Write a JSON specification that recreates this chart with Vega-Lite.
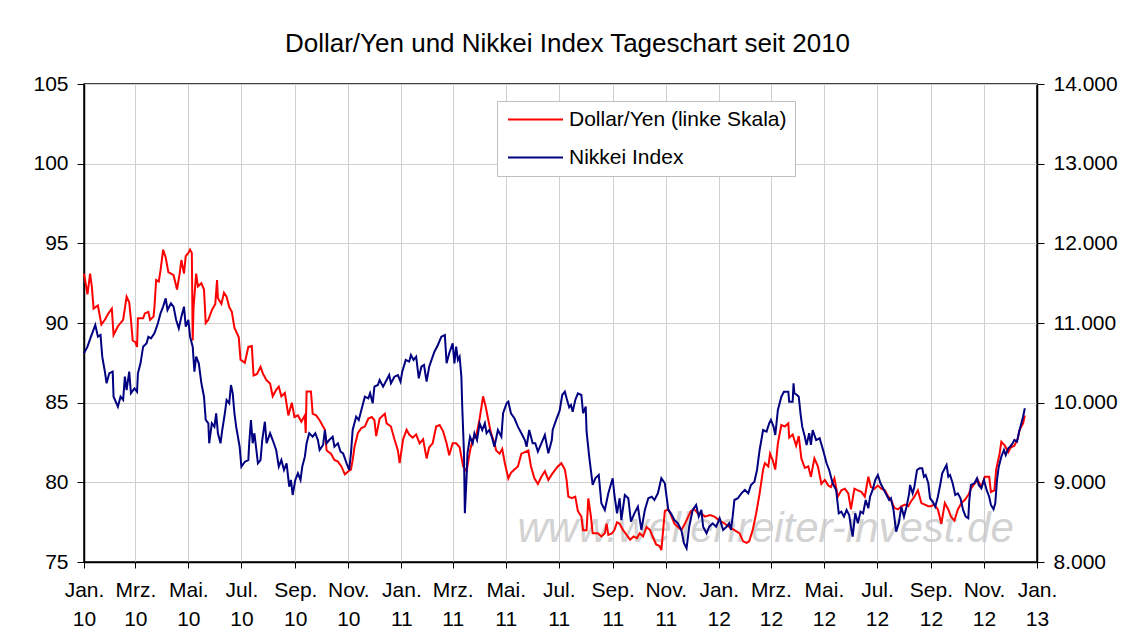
{
  "$schema": "https://vega.github.io/schema/vega-lite/v6.json",
  "width": 953,
  "height": 478,
  "autosize": {"type": "none"},
  "padding": {"left": 84, "top": 84, "right": 84, "bottom": 79},
  "background": "white",
  "config": {
    "font": "Liberation Sans",
    "view": {"stroke": "black", "strokeWidth": 1.5},
    "axis": {"labelFont": "Liberation Sans", "labelFontSize": 21, "labelColor": "black", "domainColor": "black", "domainWidth": 1.5, "tickColor": "black", "tickWidth": 1, "gridColor": "#cfcfcf", "gridWidth": 1}
  },
  "title": {"text": "Dollar/Yen und Nikkei Index Tageschart seit 2010", "fontSize": 26, "fontWeight": "normal", "font": "Liberation Sans", "color": "black", "frame": "group", "anchor": "middle", "dx": 7, "dy": 25, "baseline": "alphabetic", "offset": 20},
  "datasets": {
    "wm": [{"d": "2012-02-24", "v": 77.1, "t": "www.wellenreiter-invest.de"}],
    "usd": [
      {"d":"2010-01-01","v":93.1},{"d":"2010-01-05","v":91.8},{"d":"2010-01-08","v":93.1},{"d":"2010-01-10","v":92.3},{"d":"2010-01-12","v":90.9},{"d":"2010-01-17","v":91.1},{"d":"2010-01-21","v":89.9},{"d":"2010-01-25","v":90.2},{"d":"2010-01-29","v":90.6},{"d":"2010-02-02","v":90.9},{"d":"2010-02-04","v":89.25},{"d":"2010-02-09","v":89.8},{"d":"2010-02-15","v":90.2},{"d":"2010-02-19","v":91.65},{"d":"2010-02-22","v":91.3},{"d":"2010-02-24","v":90.2},{"d":"2010-02-26","v":88.9},{"d":"2010-03-01","v":88.8},{"d":"2010-03-03","v":88.5},{"d":"2010-03-04","v":90.3},{"d":"2010-03-10","v":90.3},{"d":"2010-03-12","v":90.6},{"d":"2010-03-16","v":90.7},{"d":"2010-03-18","v":90.2},{"d":"2010-03-22","v":90.4},{"d":"2010-03-23","v":91.0},{"d":"2010-03-25","v":92.7},{"d":"2010-03-28","v":92.6},{"d":"2010-03-30","v":93.3},{"d":"2010-04-02","v":94.6},{"d":"2010-04-05","v":94.1},{"d":"2010-04-08","v":93.2},{"d":"2010-04-14","v":93.0},{"d":"2010-04-18","v":92.1},{"d":"2010-04-21","v":93.1},{"d":"2010-04-23","v":93.95},{"d":"2010-04-26","v":93.1},{"d":"2010-04-28","v":94.2},{"d":"2010-05-01","v":94.4},{"d":"2010-05-03","v":94.6},{"d":"2010-05-05","v":94.4},{"d":"2010-05-06","v":88.9},{"d":"2010-05-07","v":91.0},{"d":"2010-05-10","v":93.1},{"d":"2010-05-12","v":92.3},{"d":"2010-05-16","v":92.5},{"d":"2010-05-19","v":92.1},{"d":"2010-05-21","v":90.0},{"d":"2010-05-24","v":90.2},{"d":"2010-05-28","v":90.8},{"d":"2010-06-01","v":91.2},{"d":"2010-06-03","v":92.7},{"d":"2010-06-04","v":91.55},{"d":"2010-06-08","v":91.2},{"d":"2010-06-11","v":91.9},{"d":"2010-06-14","v":91.65},{"d":"2010-06-17","v":91.0},{"d":"2010-06-20","v":90.7},{"d":"2010-06-23","v":89.7},{"d":"2010-06-28","v":89.1},{"d":"2010-06-30","v":87.7},{"d":"2010-07-05","v":87.5},{"d":"2010-07-09","v":88.5},{"d":"2010-07-13","v":88.55},{"d":"2010-07-15","v":86.7},{"d":"2010-07-19","v":86.8},{"d":"2010-07-23","v":87.25},{"d":"2010-07-26","v":86.8},{"d":"2010-07-30","v":86.4},{"d":"2010-08-03","v":86.2},{"d":"2010-08-06","v":85.4},{"d":"2010-08-10","v":85.8},{"d":"2010-08-13","v":86.0},{"d":"2010-08-16","v":85.4},{"d":"2010-08-20","v":85.6},{"d":"2010-08-24","v":84.2},{"d":"2010-08-28","v":85.0},{"d":"2010-08-31","v":84.1},{"d":"2010-09-04","v":84.2},{"d":"2010-09-08","v":83.8},{"d":"2010-09-12","v":84.2},{"d":"2010-09-13","v":83.1},{"d":"2010-09-14","v":85.7},{"d":"2010-09-19","v":85.7},{"d":"2010-09-21","v":84.3},{"d":"2010-09-25","v":84.2},{"d":"2010-09-29","v":83.9},{"d":"2010-10-05","v":83.3},{"d":"2010-10-07","v":82.0},{"d":"2010-10-12","v":81.8},{"d":"2010-10-16","v":81.4},{"d":"2010-10-20","v":81.3},{"d":"2010-10-24","v":81.0},{"d":"2010-10-28","v":80.5},{"d":"2010-11-01","v":80.7},{"d":"2010-11-04","v":80.8},{"d":"2010-11-06","v":81.4},{"d":"2010-11-08","v":82.2},{"d":"2010-11-12","v":83.1},{"d":"2010-11-16","v":83.4},{"d":"2010-11-20","v":83.5},{"d":"2010-11-24","v":84.0},{"d":"2010-11-28","v":84.1},{"d":"2010-12-01","v":83.9},{"d":"2010-12-03","v":82.9},{"d":"2010-12-07","v":84.0},{"d":"2010-12-13","v":84.3},{"d":"2010-12-15","v":83.7},{"d":"2010-12-20","v":83.5},{"d":"2010-12-24","v":82.7},{"d":"2010-12-28","v":82.0},{"d":"2010-12-30","v":81.2},
      {"d":"2011-01-03","v":82.7},{"d":"2011-01-07","v":83.3},{"d":"2011-01-10","v":83.0},{"d":"2011-01-14","v":82.8},{"d":"2011-01-18","v":83.0},{"d":"2011-01-22","v":82.45},{"d":"2011-01-26","v":82.7},{"d":"2011-01-30","v":81.5},{"d":"2011-02-02","v":82.2},{"d":"2011-02-06","v":82.45},{"d":"2011-02-10","v":83.5},{"d":"2011-02-14","v":83.6},{"d":"2011-02-18","v":83.2},{"d":"2011-02-22","v":82.45},{"d":"2011-02-25","v":81.7},{"d":"2011-03-01","v":82.45},{"d":"2011-03-05","v":82.45},{"d":"2011-03-09","v":82.2},{"d":"2011-03-13","v":81.0},{"d":"2011-03-17","v":80.7},{"d":"2011-03-21","v":82.0},{"d":"2011-03-24","v":82.7},{"d":"2011-03-28","v":82.9},{"d":"2011-04-01","v":84.0},{"d":"2011-04-05","v":85.4},{"d":"2011-04-08","v":84.75},{"d":"2011-04-11","v":83.9},{"d":"2011-04-14","v":83.1},{"d":"2011-04-18","v":82.45},{"d":"2011-04-20","v":82.0},{"d":"2011-04-24","v":81.8},{"d":"2011-04-27","v":82.1},{"d":"2011-04-30","v":81.2},{"d":"2011-05-04","v":80.25},{"d":"2011-05-07","v":80.6},{"d":"2011-05-11","v":80.8},{"d":"2011-05-15","v":81.0},{"d":"2011-05-19","v":81.8},{"d":"2011-05-23","v":81.9},{"d":"2011-05-27","v":82.0},{"d":"2011-05-30","v":81.0},{"d":"2011-06-03","v":80.25},{"d":"2011-06-07","v":79.9},{"d":"2011-06-11","v":80.35},{"d":"2011-06-15","v":80.7},{"d":"2011-06-19","v":80.15},{"d":"2011-06-23","v":80.5},{"d":"2011-06-27","v":80.8},{"d":"2011-06-30","v":81.0},{"d":"2011-07-04","v":81.2},{"d":"2011-07-08","v":80.8},{"d":"2011-07-10","v":80.15},{"d":"2011-07-12","v":79.1},{"d":"2011-07-16","v":79.0},{"d":"2011-07-20","v":79.1},{"d":"2011-07-23","v":78.2},{"d":"2011-07-27","v":77.85},{"d":"2011-07-29","v":77.0},{"d":"2011-08-02","v":77.0},{"d":"2011-08-04","v":79.0},{"d":"2011-08-07","v":77.85},{"d":"2011-08-09","v":76.8},{"d":"2011-08-15","v":76.8},{"d":"2011-08-19","v":76.6},{"d":"2011-08-23","v":76.8},{"d":"2011-08-25","v":77.4},{"d":"2011-08-27","v":76.7},{"d":"2011-08-31","v":76.8},{"d":"2011-09-03","v":77.0},{"d":"2011-09-06","v":77.5},{"d":"2011-09-09","v":77.4},{"d":"2011-09-13","v":77.0},{"d":"2011-09-17","v":76.7},{"d":"2011-09-21","v":76.4},{"d":"2011-09-25","v":76.6},{"d":"2011-09-29","v":76.5},{"d":"2011-10-02","v":76.8},{"d":"2011-10-06","v":76.6},{"d":"2011-10-10","v":77.2},{"d":"2011-10-14","v":77.0},{"d":"2011-10-17","v":76.6},{"d":"2011-10-21","v":76.1},{"d":"2011-10-25","v":76.0},{"d":"2011-10-27","v":75.75},{"d":"2011-10-31","v":78.2},{"d":"2011-11-04","v":78.3},{"d":"2011-11-07","v":77.95},{"d":"2011-11-11","v":77.4},{"d":"2011-11-15","v":77.2},{"d":"2011-11-19","v":77.0},{"d":"2011-11-23","v":77.4},{"d":"2011-11-27","v":77.85},{"d":"2011-11-30","v":78.2},{"d":"2011-12-04","v":78.3},{"d":"2011-12-08","v":78.05},{"d":"2011-12-12","v":78.05},{"d":"2011-12-16","v":77.85},{"d":"2011-12-22","v":77.95},{"d":"2011-12-27","v":77.85},
      {"d":"2012-01-02","v":77.6},{"d":"2012-01-08","v":77.4},{"d":"2012-01-13","v":77.2},{"d":"2012-01-19","v":77.0},{"d":"2012-01-25","v":76.8},{"d":"2012-01-29","v":76.3},{"d":"2012-02-02","v":76.2},{"d":"2012-02-05","v":76.3},{"d":"2012-02-09","v":77.0},{"d":"2012-02-13","v":78.05},{"d":"2012-02-17","v":79.3},{"d":"2012-02-21","v":80.8},{"d":"2012-02-23","v":81.2},{"d":"2012-02-27","v":81.0},{"d":"2012-02-29","v":81.8},{"d":"2012-03-03","v":81.4},{"d":"2012-03-06","v":80.8},{"d":"2012-03-09","v":82.45},{"d":"2012-03-13","v":83.6},{"d":"2012-03-17","v":83.5},{"d":"2012-03-21","v":83.7},{"d":"2012-03-22","v":82.8},{"d":"2012-03-26","v":83.0},{"d":"2012-03-30","v":82.3},{"d":"2012-04-02","v":82.9},{"d":"2012-04-05","v":81.5},{"d":"2012-04-09","v":80.9},{"d":"2012-04-13","v":81.0},{"d":"2012-04-16","v":80.35},{"d":"2012-04-20","v":81.5},{"d":"2012-04-24","v":81.0},{"d":"2012-04-28","v":79.9},{"d":"2012-05-02","v":80.15},{"d":"2012-05-06","v":79.8},{"d":"2012-05-09","v":79.7},{"d":"2012-05-13","v":80.25},{"d":"2012-05-17","v":79.1},{"d":"2012-05-21","v":79.5},{"d":"2012-05-25","v":79.6},{"d":"2012-05-29","v":79.3},{"d":"2012-06-01","v":78.3},{"d":"2012-06-05","v":79.6},{"d":"2012-06-09","v":79.5},{"d":"2012-06-13","v":79.4},{"d":"2012-06-17","v":79.1},{"d":"2012-06-21","v":80.35},{"d":"2012-06-24","v":79.7},{"d":"2012-06-28","v":79.6},{"d":"2012-07-02","v":79.8},{"d":"2012-07-06","v":79.6},{"d":"2012-07-10","v":79.5},{"d":"2012-07-14","v":79.1},{"d":"2012-07-17","v":78.9},{"d":"2012-07-21","v":78.4},{"d":"2012-07-25","v":78.3},{"d":"2012-07-29","v":78.5},{"d":"2012-08-02","v":78.6},{"d":"2012-08-06","v":78.5},{"d":"2012-08-09","v":78.8},{"d":"2012-08-13","v":79.1},{"d":"2012-08-17","v":79.5},{"d":"2012-08-21","v":78.7},{"d":"2012-08-25","v":78.6},{"d":"2012-08-29","v":78.5},{"d":"2012-09-01","v":78.5},{"d":"2012-09-05","v":78.6},{"d":"2012-09-09","v":78.3},{"d":"2012-09-13","v":77.4},{"d":"2012-09-17","v":78.7},{"d":"2012-09-21","v":78.3},{"d":"2012-09-24","v":77.85},{"d":"2012-09-28","v":77.6},{"d":"2012-10-02","v":78.3},{"d":"2012-10-06","v":78.7},{"d":"2012-10-10","v":78.9},{"d":"2012-10-14","v":79.2},{"d":"2012-10-17","v":79.6},{"d":"2012-10-21","v":79.9},{"d":"2012-10-25","v":80.15},{"d":"2012-10-29","v":79.7},{"d":"2012-11-02","v":80.35},{"d":"2012-11-07","v":80.35},{"d":"2012-11-09","v":79.4},{"d":"2012-11-13","v":79.5},{"d":"2012-11-15","v":80.8},{"d":"2012-11-19","v":81.8},{"d":"2012-11-21","v":82.55},{"d":"2012-11-25","v":82.3},{"d":"2012-11-29","v":81.9},{"d":"2012-12-02","v":82.2},{"d":"2012-12-06","v":82.3},{"d":"2012-12-10","v":82.75},{"d":"2012-12-12","v":83.3},{"d":"2012-12-16","v":83.7},{"d":"2012-12-18","v":84.2}
    ],
    "nk": [
      {"d":"2010-01-01","v":10620},{"d":"2010-01-05","v":10703},{"d":"2010-01-09","v":10828},{"d":"2010-01-14","v":10975},{"d":"2010-01-17","v":10828},{"d":"2010-01-20","v":10849},{"d":"2010-01-22","v":10577},{"d":"2010-01-25","v":10389},{"d":"2010-01-27","v":10243},{"d":"2010-01-30","v":10368},{"d":"2010-02-03","v":10389},{"d":"2010-02-04","v":10075},{"d":"2010-02-09","v":9950},{"d":"2010-02-12","v":10075},{"d":"2010-02-15","v":10034},{"d":"2010-02-17","v":10326},{"d":"2010-02-19","v":10159},{"d":"2010-02-22","v":10389},{"d":"2010-02-24","v":10118},{"d":"2010-02-28","v":10180},{"d":"2010-03-03","v":10138},{"d":"2010-03-04","v":10368},{"d":"2010-03-07","v":10494},{"d":"2010-03-10","v":10703},{"d":"2010-03-14","v":10745},{"d":"2010-03-16","v":10828},{"d":"2010-03-19","v":10808},{"d":"2010-03-23","v":10871},{"d":"2010-03-27","v":10996},{"d":"2010-03-30","v":11122},{"d":"2010-04-02","v":11205},{"d":"2010-04-05","v":11310},{"d":"2010-04-07","v":11163},{"d":"2010-04-11","v":11247},{"d":"2010-04-14","v":11205},{"d":"2010-04-17","v":11038},{"d":"2010-04-20","v":10933},{"d":"2010-04-23","v":11080},{"d":"2010-04-26","v":11205},{"d":"2010-04-28","v":10954},{"d":"2010-05-01","v":11038},{"d":"2010-05-03","v":10828},{"d":"2010-05-06","v":10703},{"d":"2010-05-08","v":10389},{"d":"2010-05-10","v":10577},{"d":"2010-05-13","v":10494},{"d":"2010-05-16","v":10243},{"d":"2010-05-19","v":10075},{"d":"2010-05-21","v":9783},{"d":"2010-05-24","v":9741},{"d":"2010-05-25","v":9490},{"d":"2010-05-28","v":9741},{"d":"2010-05-31","v":9699},{"d":"2010-06-02","v":9867},{"d":"2010-06-04","v":9616},{"d":"2010-06-07","v":9490},{"d":"2010-06-09","v":9657},{"d":"2010-06-12","v":9867},{"d":"2010-06-14","v":10034},{"d":"2010-06-17","v":9992},{"d":"2010-06-19","v":10222},{"d":"2010-06-21","v":10118},{"d":"2010-06-23","v":9867},{"d":"2010-06-25","v":9699},{"d":"2010-06-29","v":9447},{"d":"2010-07-01","v":9197},{"d":"2010-07-05","v":9259},{"d":"2010-07-09","v":9280},{"d":"2010-07-10","v":9490},{"d":"2010-07-12","v":9783},{"d":"2010-07-14","v":9490},{"d":"2010-07-16","v":9616},{"d":"2010-07-20","v":9239},{"d":"2010-07-23","v":9280},{"d":"2010-07-25","v":9531},{"d":"2010-07-28","v":9761},{"d":"2010-07-30","v":9490},{"d":"2010-08-03","v":9616},{"d":"2010-08-06","v":9531},{"d":"2010-08-10","v":9406},{"d":"2010-08-13","v":9197},{"d":"2010-08-16","v":9280},{"d":"2010-08-19","v":9155},{"d":"2010-08-22","v":9239},{"d":"2010-08-25","v":8946},{"d":"2010-08-27","v":9030},{"d":"2010-08-29","v":8841},{"d":"2010-09-01","v":9030},{"d":"2010-09-04","v":9113},{"d":"2010-09-07","v":9030},{"d":"2010-09-09","v":9197},{"d":"2010-09-12","v":9322},{"d":"2010-09-14","v":9490},{"d":"2010-09-17","v":9616},{"d":"2010-09-21","v":9573},{"d":"2010-09-24","v":9616},{"d":"2010-09-27","v":9531},{"d":"2010-09-29","v":9406},{"d":"2010-10-03","v":9470},{"d":"2010-10-05","v":9657},{"d":"2010-10-07","v":9490},{"d":"2010-10-10","v":9531},{"d":"2010-10-14","v":9573},{"d":"2010-10-16","v":9447},{"d":"2010-10-20","v":9490},{"d":"2010-10-23","v":9385},{"d":"2010-10-26","v":9364},{"d":"2010-10-30","v":9239},{"d":"2010-11-02","v":9155},{"d":"2010-11-04","v":9364},{"d":"2010-11-06","v":9657},{"d":"2010-11-08","v":9741},{"d":"2010-11-10","v":9824},{"d":"2010-11-13","v":9783},{"d":"2010-11-16","v":9908},{"d":"2010-11-20","v":10075},{"d":"2010-11-24","v":10055},{"d":"2010-11-26","v":10118},{"d":"2010-11-29","v":9992},{"d":"2010-12-01","v":10201},{"d":"2010-12-05","v":10222},{"d":"2010-12-07","v":10285},{"d":"2010-12-11","v":10201},{"d":"2010-12-15","v":10285},{"d":"2010-12-18","v":10347},{"d":"2010-12-20","v":10243},{"d":"2010-12-24","v":10326},{"d":"2010-12-28","v":10347},{"d":"2010-12-31","v":10264},
      {"d":"2011-01-02","v":10389},{"d":"2011-01-06","v":10536},{"d":"2011-01-10","v":10515},{"d":"2011-01-12","v":10598},{"d":"2011-01-15","v":10536},{"d":"2011-01-18","v":10577},{"d":"2011-01-21","v":10306},{"d":"2011-01-24","v":10452},{"d":"2011-01-27","v":10473},{"d":"2011-01-30","v":10264},{"d":"2011-02-02","v":10452},{"d":"2011-02-04","v":10515},{"d":"2011-02-08","v":10640},{"d":"2011-02-12","v":10724},{"d":"2011-02-16","v":10828},{"d":"2011-02-20","v":10849},{"d":"2011-02-22","v":10494},{"d":"2011-02-25","v":10620},{"d":"2011-03-01","v":10745},{"d":"2011-03-03","v":10494},{"d":"2011-03-05","v":10703},{"d":"2011-03-07","v":10536},{"d":"2011-03-09","v":10577},{"d":"2011-03-11","v":10326},{"d":"2011-03-12","v":9950},{"d":"2011-03-14","v":9364},{"d":"2011-03-15","v":8611},{"d":"2011-03-17","v":9071},{"d":"2011-03-18","v":9364},{"d":"2011-03-21","v":9573},{"d":"2011-03-24","v":9490},{"d":"2011-03-26","v":9616},{"d":"2011-03-29","v":9531},{"d":"2011-04-01","v":9741},{"d":"2011-04-04","v":9657},{"d":"2011-04-07","v":9741},{"d":"2011-04-09","v":9616},{"d":"2011-04-12","v":9657},{"d":"2011-04-15","v":9573},{"d":"2011-04-18","v":9447},{"d":"2011-04-22","v":9657},{"d":"2011-04-26","v":9573},{"d":"2011-04-28","v":9867},{"d":"2011-05-02","v":9992},{"d":"2011-05-04","v":10013},{"d":"2011-05-07","v":9867},{"d":"2011-05-11","v":9804},{"d":"2011-05-15","v":9699},{"d":"2011-05-19","v":9616},{"d":"2011-05-23","v":9531},{"d":"2011-05-25","v":9447},{"d":"2011-05-28","v":9657},{"d":"2011-06-01","v":9490},{"d":"2011-06-04","v":9490},{"d":"2011-06-07","v":9385},{"d":"2011-06-11","v":9490},{"d":"2011-06-15","v":9594},{"d":"2011-06-19","v":9364},{"d":"2011-06-23","v":9531},{"d":"2011-06-24","v":9657},{"d":"2011-06-28","v":9783},{"d":"2011-07-02","v":9900},{"d":"2011-07-05","v":10096},{"d":"2011-07-08","v":10138},{"d":"2011-07-10","v":10055},{"d":"2011-07-13","v":9942},{"d":"2011-07-15","v":9971},{"d":"2011-07-17","v":9887},{"d":"2011-07-20","v":10034},{"d":"2011-07-23","v":10118},{"d":"2011-07-27","v":10096},{"d":"2011-07-29","v":9867},{"d":"2011-08-01","v":9950},{"d":"2011-08-02","v":9636},{"d":"2011-08-05","v":9322},{"d":"2011-08-09","v":8967},{"d":"2011-08-12","v":9051},{"d":"2011-08-16","v":9092},{"d":"2011-08-19","v":8737},{"d":"2011-08-23","v":8653},{"d":"2011-08-27","v":8862},{"d":"2011-09-01","v":9051},{"d":"2011-09-03","v":8841},{"d":"2011-09-06","v":8611},{"d":"2011-09-09","v":8800},{"d":"2011-09-11","v":8527},{"d":"2011-09-15","v":8841},{"d":"2011-09-19","v":8800},{"d":"2011-09-22","v":8506},{"d":"2011-09-26","v":8611},{"d":"2011-09-30","v":8695},{"d":"2011-10-04","v":8402},{"d":"2011-10-08","v":8653},{"d":"2011-10-12","v":8800},{"d":"2011-10-16","v":8820},{"d":"2011-10-19","v":8778},{"d":"2011-10-23","v":8862},{"d":"2011-10-27","v":9051},{"d":"2011-10-31","v":8988},{"d":"2011-11-02","v":8820},{"d":"2011-11-04","v":8653},{"d":"2011-11-07","v":8611},{"d":"2011-11-11","v":8527},{"d":"2011-11-15","v":8486},{"d":"2011-11-19","v":8402},{"d":"2011-11-22","v":8235},{"d":"2011-11-25","v":8172},{"d":"2011-11-28","v":8443},{"d":"2011-12-02","v":8653},{"d":"2011-12-06","v":8716},{"d":"2011-12-09","v":8569},{"d":"2011-12-12","v":8653},{"d":"2011-12-14","v":8443},{"d":"2011-12-18","v":8360},{"d":"2011-12-21","v":8443},{"d":"2011-12-25","v":8486},{"d":"2011-12-29","v":8443},
      {"d":"2012-01-02","v":8548},{"d":"2012-01-06","v":8402},{"d":"2012-01-10","v":8443},{"d":"2012-01-13","v":8486},{"d":"2012-01-15","v":8402},{"d":"2012-01-17","v":8569},{"d":"2012-01-19","v":8778},{"d":"2012-01-23","v":8800},{"d":"2012-01-27","v":8862},{"d":"2012-01-31","v":8904},{"d":"2012-02-04","v":8862},{"d":"2012-02-07","v":8967},{"d":"2012-02-11","v":9008},{"d":"2012-02-14","v":9155},{"d":"2012-02-17","v":9406},{"d":"2012-02-21","v":9657},{"d":"2012-02-25","v":9636},{"d":"2012-02-28","v":9741},{"d":"2012-03-01","v":9783},{"d":"2012-03-04","v":9699},{"d":"2012-03-06","v":9594},{"d":"2012-03-09","v":9908},{"d":"2012-03-13","v":10075},{"d":"2012-03-16","v":10138},{"d":"2012-03-21","v":10138},{"d":"2012-03-22","v":10013},{"d":"2012-03-26","v":10013},{"d":"2012-03-27","v":10243},{"d":"2012-03-28","v":10118},{"d":"2012-03-31","v":10096},{"d":"2012-04-02","v":10075},{"d":"2012-04-04","v":9867},{"d":"2012-04-06","v":9699},{"d":"2012-04-09","v":9573},{"d":"2012-04-11","v":9469},{"d":"2012-04-14","v":9616},{"d":"2012-04-16","v":9469},{"d":"2012-04-18","v":9657},{"d":"2012-04-22","v":9531},{"d":"2012-04-26","v":9553},{"d":"2012-04-30","v":9406},{"d":"2012-05-04","v":9239},{"d":"2012-05-07","v":9155},{"d":"2012-05-11","v":8988},{"d":"2012-05-15","v":8904},{"d":"2012-05-18","v":8611},{"d":"2012-05-21","v":8632},{"d":"2012-05-24","v":8569},{"d":"2012-05-27","v":8653},{"d":"2012-05-30","v":8590},{"d":"2012-06-01","v":8443},{"d":"2012-06-03","v":8318},{"d":"2012-06-06","v":8611},{"d":"2012-06-09","v":8486},{"d":"2012-06-12","v":8632},{"d":"2012-06-15","v":8611},{"d":"2012-06-18","v":8778},{"d":"2012-06-21","v":8674},{"d":"2012-06-23","v":8820},{"d":"2012-06-26","v":8904},{"d":"2012-06-29","v":9030},{"d":"2012-07-02","v":9092},{"d":"2012-07-05","v":8988},{"d":"2012-07-08","v":8925},{"d":"2012-07-12","v":8841},{"d":"2012-07-15","v":8778},{"d":"2012-07-17","v":8800},{"d":"2012-07-20","v":8653},{"d":"2012-07-23","v":8381},{"d":"2012-07-26","v":8486},{"d":"2012-07-29","v":8695},{"d":"2012-08-01","v":8569},{"d":"2012-08-04","v":8695},{"d":"2012-08-07","v":8862},{"d":"2012-08-08","v":8967},{"d":"2012-08-11","v":8862},{"d":"2012-08-13","v":8946},{"d":"2012-08-16","v":9155},{"d":"2012-08-19","v":9176},{"d":"2012-08-22","v":9176},{"d":"2012-08-24","v":9071},{"d":"2012-08-26","v":9092},{"d":"2012-08-29","v":8988},{"d":"2012-08-31","v":8800},{"d":"2012-09-03","v":8758},{"d":"2012-09-06","v":8695},{"d":"2012-09-09","v":8820},{"d":"2012-09-12","v":8988},{"d":"2012-09-14","v":9113},{"d":"2012-09-17","v":9176},{"d":"2012-09-19","v":9218},{"d":"2012-09-21","v":9071},{"d":"2012-09-23","v":9092},{"d":"2012-09-26","v":8988},{"d":"2012-09-29","v":8841},{"d":"2012-10-02","v":8862},{"d":"2012-10-05","v":8800},{"d":"2012-10-08","v":8653},{"d":"2012-10-11","v":8569},{"d":"2012-10-14","v":8548},{"d":"2012-10-15","v":8758},{"d":"2012-10-17","v":8967},{"d":"2012-10-21","v":8988},{"d":"2012-10-24","v":9051},{"d":"2012-10-26","v":8967},{"d":"2012-10-29","v":8925},{"d":"2012-11-01","v":9030},{"d":"2012-11-04","v":8904},{"d":"2012-11-07","v":8820},{"d":"2012-11-09","v":8716},{"d":"2012-11-12","v":8662},{"d":"2012-11-14","v":8737},{"d":"2012-11-16","v":9030},{"d":"2012-11-18","v":9197},{"d":"2012-11-21","v":9322},{"d":"2012-11-24","v":9406},{"d":"2012-11-26","v":9343},{"d":"2012-11-29","v":9427},{"d":"2012-12-01","v":9447},{"d":"2012-12-04","v":9490},{"d":"2012-12-06","v":9531},{"d":"2012-12-09","v":9510},{"d":"2012-12-11","v":9616},{"d":"2012-12-14","v":9741},{"d":"2012-12-16","v":9824},{"d":"2012-12-18","v":9929}
    ]
  },
  "layer": [
    {
      "layer": [
        {
          "data": {"name": "wm"},
          "mark": {"type": "text", "fontSize": 42, "fontStyle": "italic", "font": "Liberation Sans", "color": "#c8c8c8", "opacity": 0.8, "align": "center", "baseline": "middle"},
          "encoding": {
            "x": {"field": "d", "type": "temporal", "scale": {"type": "utc", "domain": [{"year": 2010, "month": 1, "date": 1, "utc": true}, {"year": 2013, "month": 1, "date": 1, "utc": true}]},
              "axis": {"title": null, "values": [
                {"year": 2010, "month": 1, "date": 1, "utc": true}, {"year": 2010, "month": 3, "date": 1, "utc": true}, {"year": 2010, "month": 5, "date": 1, "utc": true}, {"year": 2010, "month": 7, "date": 1, "utc": true}, {"year": 2010, "month": 9, "date": 1, "utc": true}, {"year": 2010, "month": 11, "date": 1, "utc": true},
                {"year": 2011, "month": 1, "date": 1, "utc": true}, {"year": 2011, "month": 3, "date": 1, "utc": true}, {"year": 2011, "month": 5, "date": 1, "utc": true}, {"year": 2011, "month": 7, "date": 1, "utc": true}, {"year": 2011, "month": 9, "date": 1, "utc": true}, {"year": 2011, "month": 11, "date": 1, "utc": true},
                {"year": 2012, "month": 1, "date": 1, "utc": true}, {"year": 2012, "month": 3, "date": 1, "utc": true}, {"year": 2012, "month": 5, "date": 1, "utc": true}, {"year": 2012, "month": 7, "date": 1, "utc": true}, {"year": 2012, "month": 9, "date": 1, "utc": true}, {"year": 2012, "month": 11, "date": 1, "utc": true},
                {"year": 2013, "month": 1, "date": 1, "utc": true}],
                "labelExpr": "[['Jan.','Feb.','Mrz.','Apr.','Mai.','Jun.','Jul.','Aug.','Sep.','Okt.','Nov.','Dez.'][utcmonth(datum.value)], utcFormat(datum.value, '%y')]",
                "labelLineHeight": 29, "labelPadding": 11, "tickSize": 6, "grid": true, "labelAlign": "center", "labelBaseline": "top", "labelFlush": false, "labelOverlap": false}},
            "y": {"field": "v", "type": "quantitative", "scale": {"domain": [75, 105], "nice": false, "zero": false},
              "axis": {"title": null, "values": [75, 80, 85, 90, 95, 100, 105], "grid": true, "tickSize": 7, "labelPadding": 9}},
            "text": {"field": "t"}
          }
        },
        {
          "data": {"name": "usd"},
          "mark": {"type": "line", "strokeWidth": 2},
          "encoding": {
            "x": {"field": "d", "type": "temporal"},
            "y": {"field": "v", "type": "quantitative"},
            "color": {"datum": "Dollar/Yen (linke Skala)", "type": "nominal",
              "scale": {"domain": ["Dollar/Yen (linke Skala)", "Nikkei Index"], "range": ["#ff0000", "#000080"]},
              "legend": {"title": null, "orient": "none", "legendX": 413, "legendY": 17, "symbolType": "M-5,0H5", "symbolSize": 121, "symbolStrokeWidth": 2, "symbolOffset": 20, "labelFontSize": 21, "labelFont": "Liberation Sans", "labelColor": "black", "labelLimit": 400, "labelOffset": 23, "padding": 8, "strokeColor": "#bfbfbf", "fillColor": "white", "rowPadding": 16}}
          }
        }
      ]
    },
    {
      "data": {"name": "nk"},
      "mark": {"type": "line", "strokeWidth": 2},
      "encoding": {
        "x": {"field": "d", "type": "temporal"},
        "y": {"field": "v", "type": "quantitative", "scale": {"domain": [8000, 14000], "nice": false, "zero": false},
          "axis": {"title": null, "orient": "right", "values": [8000, 9000, 10000, 11000, 12000, 13000, 14000], "grid": false, "tickSize": 7, "labelPadding": 9, "labelExpr": "replace(format(datum.value, ',.0f'), ',', '.')"}},
        "color": {"datum": "Nikkei Index", "type": "nominal"}
      }
    }
  ],
  "resolve": {"scale": {"y": "independent"}}
}
